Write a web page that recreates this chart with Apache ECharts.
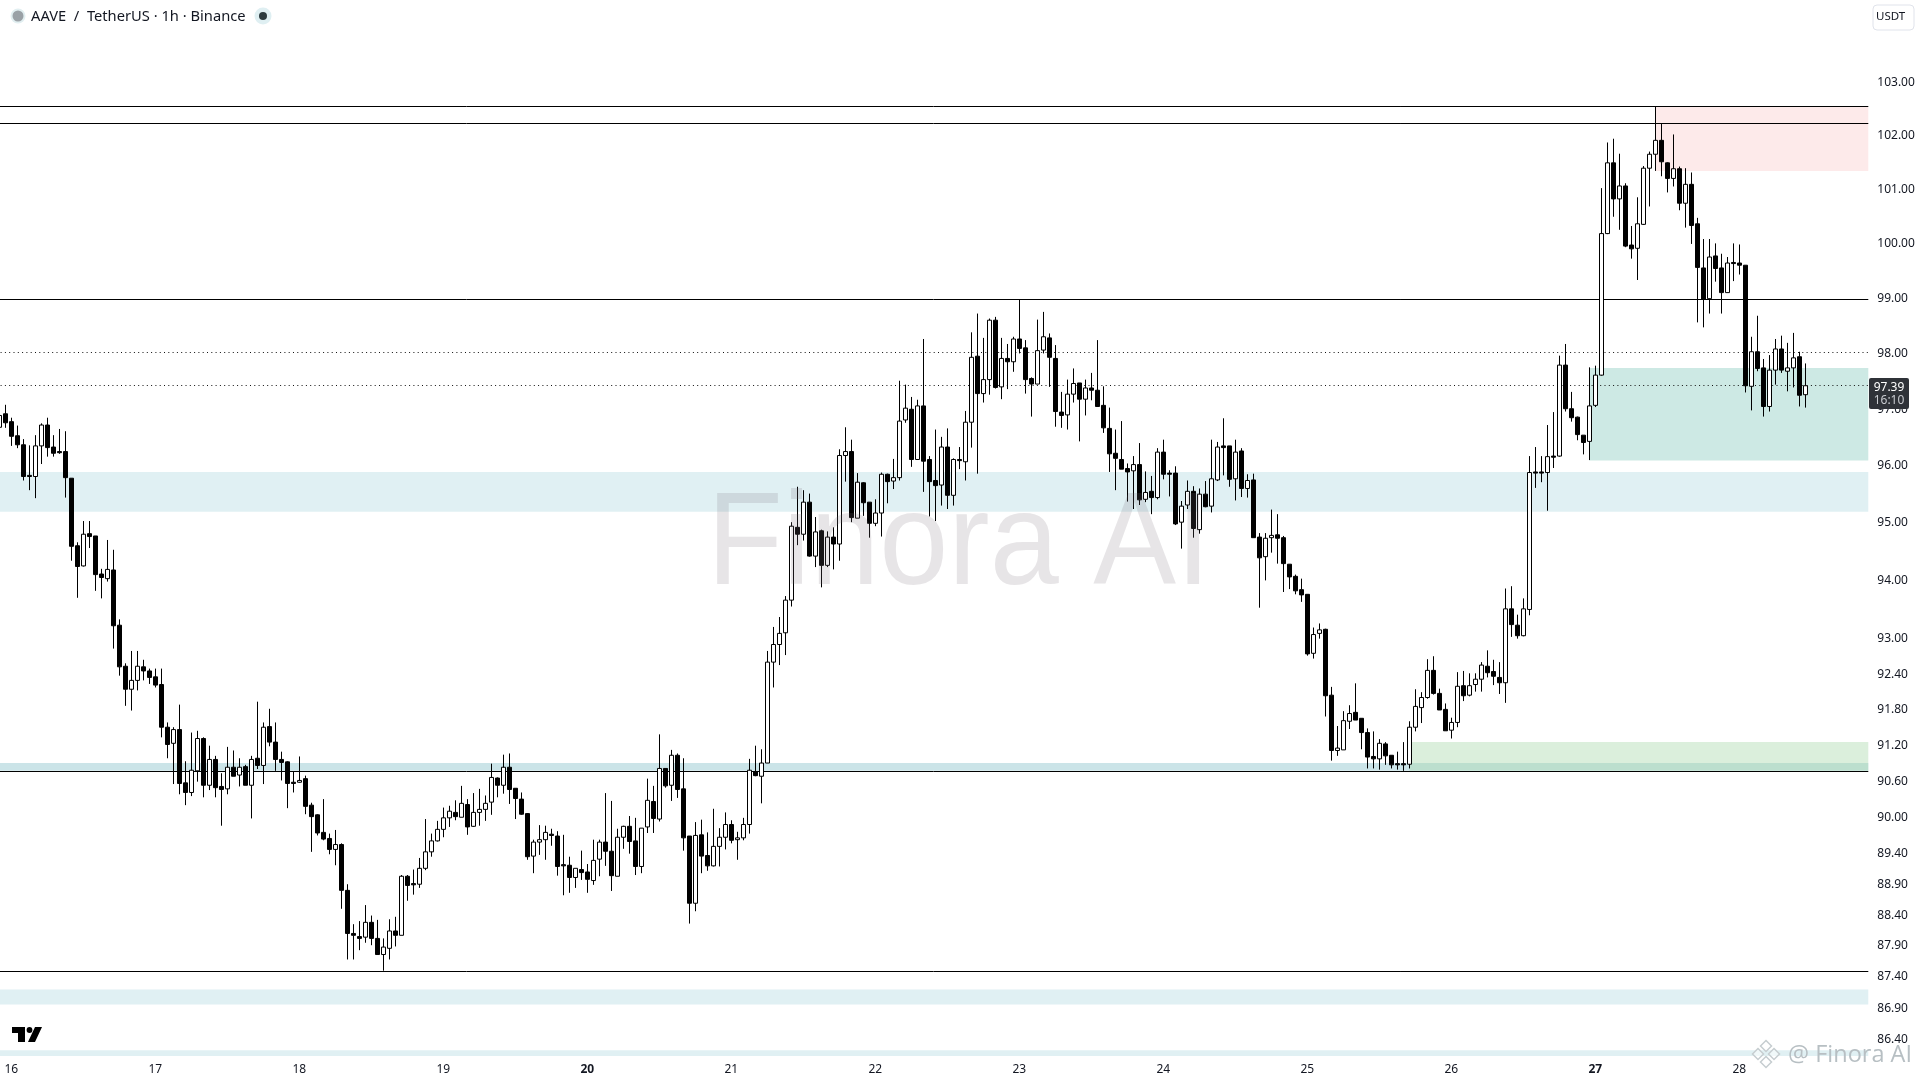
<!DOCTYPE html>
<html><head><meta charset="utf-8">
<script src="https://cdn.jsdelivr.net/npm/echarts@6/dist/echarts.min.js"></script>
<style>html,body{margin:0;padding:0;background:#fff}#c{width:1920px;height:1080px}</style>
</head><body><div id="c"></div>
<script>
const opens=[
96.65,96.89,96.75,96.50,96.34,95.80,95.78,96.32,96.69,96.30,
96.22,96.22,95.75,94.57,94.22,94.78,94.74,94.08,94.00,94.15,
93.20,92.50,92.11,92.26,92.49,92.42,92.32,92.19,91.47,91.20,
91.43,90.54,90.38,90.74,91.28,90.50,90.93,90.48,90.44,90.80,
90.67,90.81,90.50,90.95,90.83,91.48,91.22,90.93,90.89,90.55,
90.55,90.61,90.17,90.01,89.72,89.62,89.44,89.52,88.77,88.07,
88.02,88.01,88.25,87.99,87.73,87.83,88.11,88.04,89.00,88.88,
88.87,89.13,89.40,89.58,89.77,89.96,90.05,89.97,90.18,89.82,
90.05,90.10,90.22,90.62,90.50,90.80,90.45,90.27,90.03,89.33,
89.56,89.60,89.69,89.66,89.19,89.18,88.98,89.11,89.07,88.93,
89.28,89.56,89.41,89.00,89.64,89.82,89.58,89.16,89.81,90.23,
89.94,90.78,90.50,91.00,90.44,89.66,88.56,89.68,89.34,89.17,
89.49,89.64,89.85,89.60,89.63,89.85,90.73,90.65,90.87,92.57,
92.87,93.07,93.63,94.89,94.77,95.33,94.39,94.83,94.23,94.72,
94.60,96.15,96.22,95.05,95.67,95.33,94.96,95.14,95.82,95.70,
95.76,96.78,96.97,96.08,97.03,96.08,95.71,95.63,96.30,95.45,
96.08,96.04,96.74,97.92,97.25,97.50,98.57,97.37,97.88,97.82,
98.23,98.07,97.52,97.42,98.03,98.25,97.88,96.92,96.87,97.24,
97.44,97.15,97.35,97.31,97.04,96.63,96.19,96.08,95.92,95.88,
95.99,95.38,95.52,95.41,96.21,95.84,95.84,94.98,95.28,95.52,
94.85,95.47,95.26,95.72,96.32,96.32,95.74,96.23,95.57,95.72,
94.72,94.38,94.71,94.76,94.71,94.25,94.04,93.81,93.73,92.72,
93.06,93.13,92.01,91.08,91.09,91.57,91.72,91.62,91.38,90.98,
90.94,91.19,91.00,90.86,90.86,90.85,91.47,91.80,91.97,92.43,
92.04,91.77,91.42,91.55,92.17,92.01,92.19,92.28,92.50,92.41,
92.31,92.22,93.48,93.20,93.02,93.47,95.86,95.86,95.85,96.14,
96.14,97.76,96.98,96.83,96.51,96.40,97.04,97.58,100.15,101.46,
100.79,101.03,99.94,99.88,100.32,101.36,101.62,101.88,101.46,101.17,
101.35,100.71,101.06,100.33,99.52,98.96,99.74,99.52,99.07,99.62,
99.61,99.57,97.38,98.00,97.71,97.02,97.67,98.05,97.65,97.71,97.91,97.23];
const closes=[
96.86,96.73,96.49,96.34,95.78,95.78,96.32,96.69,96.29,96.19,
96.20,95.76,94.56,94.21,94.77,94.73,94.07,94.02,94.16,93.19,
92.49,92.11,92.26,92.50,92.42,92.31,92.18,91.47,91.18,91.43,
90.53,90.38,90.75,91.28,90.50,90.93,90.46,90.43,90.80,90.65,
90.80,90.50,90.93,90.83,91.47,91.22,90.93,90.88,90.53,90.53,
90.58,90.15,89.98,89.71,89.61,89.44,89.52,88.77,88.07,88.04,
87.99,88.25,87.99,87.73,87.85,88.11,88.04,89.00,88.85,88.86,
89.13,89.40,89.58,89.77,89.96,90.07,89.98,90.20,89.81,90.05,
90.10,90.20,90.63,90.50,90.80,90.43,90.28,90.02,89.32,89.56,
89.60,89.72,89.67,89.16,89.17,88.98,89.13,89.06,88.95,89.26,
89.56,89.41,89.01,89.64,89.82,89.57,89.16,89.79,90.25,89.95,
90.78,90.49,91.00,90.43,89.63,88.56,89.67,89.33,89.17,89.49,
89.64,89.85,89.59,89.63,89.85,90.75,90.66,90.87,92.57,92.87,
93.06,93.63,94.91,94.77,95.33,94.39,94.81,94.23,94.72,94.60,
96.15,96.22,95.06,95.68,95.32,94.96,95.14,95.82,95.69,95.76,
96.76,96.99,96.08,97.03,96.05,95.69,95.62,96.30,95.45,96.08,
96.06,96.74,97.90,97.25,97.50,98.57,97.36,97.88,97.82,98.23,
98.06,97.50,97.42,98.02,98.27,97.90,96.93,96.86,97.24,97.43,
97.15,97.35,97.31,97.02,96.64,96.18,96.10,95.91,95.86,95.99,
95.37,95.50,95.41,96.21,95.82,95.82,94.95,95.26,95.52,94.87,
95.47,95.25,95.74,96.30,96.29,95.73,96.21,95.57,95.71,94.71,
94.36,94.70,94.75,94.70,94.26,94.03,93.79,93.72,92.71,93.04,
93.12,92.00,91.08,91.12,91.58,91.70,91.59,91.38,90.97,90.94,
91.20,90.99,90.84,90.84,90.84,91.47,91.82,91.97,92.43,92.04,
91.76,91.41,91.55,92.16,92.00,92.17,92.28,92.52,92.39,92.33,
92.22,93.48,93.21,93.02,93.48,95.85,95.84,95.84,96.13,96.12,
97.76,96.98,96.82,96.52,96.38,97.03,97.58,100.15,101.46,100.79,
101.03,99.92,99.87,100.33,101.36,101.62,101.88,101.48,101.17,101.35,
100.71,101.06,100.30,99.53,98.95,99.72,99.51,99.07,99.61,99.60,
99.57,97.39,98.00,97.70,97.02,97.67,98.05,97.67,97.71,97.89,97.22,97.39];
const highs=[
96.93,97.05,96.82,96.68,96.44,96.33,96.51,96.72,96.82,96.51,
96.62,96.58,95.75,94.63,95.00,95.00,94.74,94.17,94.67,94.50,
93.30,92.55,92.76,92.76,92.61,92.46,92.46,92.46,91.55,91.47,
91.85,90.90,91.38,91.41,91.30,91.16,90.99,90.70,91.14,91.08,
90.95,90.84,90.99,91.90,91.55,91.78,91.55,91.06,90.90,90.73,
90.98,90.66,90.21,90.02,90.27,89.70,89.76,89.54,88.87,88.22,
88.27,88.53,88.36,88.29,87.99,88.30,88.34,89.02,89.02,89.11,
89.30,89.94,89.70,89.91,90.13,90.16,90.25,90.49,90.27,90.37,
90.44,90.33,90.86,90.63,91.01,91.03,90.45,90.38,90.04,89.60,
89.84,89.83,89.78,89.74,89.68,89.32,89.13,89.42,89.20,89.60,
89.60,90.37,90.24,89.78,89.83,89.99,89.96,89.79,90.61,90.49,
91.35,90.78,91.09,91.03,90.95,89.66,89.89,89.93,89.72,90.11,
89.79,90.05,89.92,89.73,89.96,90.94,91.16,91.10,92.76,93.17,
93.34,93.70,94.98,95.60,95.54,95.48,95.07,94.85,94.82,94.89,
96.26,96.65,96.43,95.84,95.68,95.33,95.38,95.85,95.83,96.09,
97.48,97.41,97.19,97.14,98.23,96.14,96.61,96.48,96.63,96.10,
96.30,96.94,98.35,98.69,98.25,98.60,98.63,98.25,98.14,98.27,
98.94,98.21,97.54,98.58,98.72,98.33,98.12,97.28,97.50,97.70,
97.44,97.50,97.62,98.21,97.38,97.00,96.61,96.76,96.01,96.14,
96.37,95.87,95.79,96.28,96.43,95.89,95.96,95.35,95.71,95.61,
95.57,95.70,96.43,96.39,96.81,96.32,96.43,96.28,95.82,95.83,
94.79,94.79,95.20,95.12,94.74,94.25,94.07,94.00,93.73,93.16,
93.23,93.14,92.15,91.49,91.74,91.84,92.21,91.62,91.45,91.40,
91.27,91.22,91.00,91.06,91.22,91.57,92.11,92.06,92.62,92.67,
92.12,91.87,91.63,92.40,92.42,92.38,92.38,92.57,92.77,92.61,
92.57,93.83,93.87,93.38,93.66,96.14,96.30,96.14,96.69,96.92,
97.93,98.14,97.28,96.84,96.51,97.72,97.75,100.99,101.84,101.91,
101.63,101.08,100.29,100.82,101.40,101.67,102.51,102.19,101.47,101.99,
101.39,101.36,101.28,100.44,100.05,100.05,99.97,99.78,99.72,99.97,
99.95,99.57,98.27,98.65,97.87,97.94,98.23,98.29,98.16,98.34,98.00,97.79];
const lows=[
96.61,96.64,96.32,96.28,95.71,95.54,95.40,96.00,96.13,96.13,
96.18,95.41,94.31,93.67,94.21,94.53,93.79,93.66,93.95,92.80,
92.34,91.83,91.75,92.09,92.26,92.20,92.14,91.30,90.95,90.52,
90.35,90.17,90.32,90.56,90.30,90.42,90.30,89.83,90.35,90.65,
90.48,90.50,89.95,90.77,90.52,91.15,90.74,90.58,90.12,90.38,
90.54,90.02,89.40,89.67,89.59,89.36,89.18,88.47,87.65,87.65,
87.80,87.92,87.88,87.73,87.47,87.65,87.86,88.04,88.60,88.70,
88.81,89.10,89.32,89.57,89.64,89.81,89.92,89.97,89.68,89.81,
89.83,89.91,90.01,90.30,90.36,90.19,89.94,90.01,89.27,89.05,
89.35,89.27,89.50,89.01,88.69,88.73,88.81,88.94,88.73,88.86,
89.00,89.17,88.76,89.00,89.45,89.37,89.02,89.05,89.71,89.71,
89.90,90.46,90.24,90.29,89.42,88.23,88.43,89.05,89.09,89.16,
89.16,89.44,89.54,89.27,89.59,89.70,90.65,90.20,90.87,92.14,
92.52,92.69,93.52,94.58,94.66,94.38,94.20,93.85,94.20,94.16,
94.31,95.69,94.98,95.05,95.09,94.71,94.91,94.73,95.31,95.56,
95.71,96.73,95.95,96.08,95.51,95.08,95.00,95.27,95.21,95.27,
95.91,95.71,96.29,95.83,97.09,97.23,97.34,97.15,97.33,97.64,
97.97,97.25,96.84,97.42,97.97,97.37,96.66,96.64,96.61,97.09,
96.40,96.86,97.13,97.02,96.55,95.86,95.54,95.91,95.34,95.21,
95.28,95.33,95.12,95.38,95.73,95.43,94.93,94.52,95.21,94.71,
94.78,95.24,95.15,95.70,95.80,95.60,95.36,95.42,95.41,94.71,
93.50,93.97,94.45,94.26,93.77,93.82,93.73,93.60,92.68,92.63,
92.97,91.65,90.91,90.99,91.09,91.44,91.59,91.10,90.78,90.78,
90.76,90.84,90.78,90.76,90.74,90.78,91.40,91.54,91.95,92.02,
91.76,91.41,91.28,91.47,91.91,91.99,92.07,92.07,92.31,92.18,
92.03,91.88,93.00,92.97,93.01,93.37,95.58,95.68,95.18,95.93,
96.13,96.93,96.75,96.42,96.17,96.07,97.01,97.57,100.14,100.46,
100.22,99.90,99.69,99.30,100.31,100.65,101.31,101.21,100.91,101.02,
100.58,100.26,99.96,98.53,98.44,98.69,99.27,98.69,99.07,99.28,
99.40,97.27,96.95,97.65,96.84,96.93,97.41,97.62,97.29,97.36,97.02,97.00];

const priceTicks=[103,102,101,100,99,98,97,96,95,94,93,92.4,91.8,91.2,90.6,90,89.4,88.9,88.4,87.9,87.4,86.9,86.4];
const dayLabels=['16','17','18','19','20','21','22','23','24','25','26','27','28'];
const boldDays=['20','27'];
const firstDayBar=2, barsPerDay=24, futureBars=10;
const solidLevels=[102.52,102.2,98.95,90.74,87.46];
const dottedLevels=[98.0,97.39];
const fullBands=[[95.16,95.86],[86.93,87.17],[86.11,86.20]];
const thinBand=[90.74,90.87];
const supplyZone={startBar:276,low:101.31,high:102.52};
const demandZone={startBar:265,low:96.06,high:97.71};
const baseZone={startBar:235,low:90.74,high:91.22};
const axisMin=86.11, axisMax=104.54;

const total=opens.length+futureBars;
const categories=Array.from({length:total},(_,i)=>String(i));
const candles=opens.map((o,i)=>[o,closes[i],lows[i],highs[i]]);
const band=(lo,hi,color,start)=>{const a={yAxis:hi,itemStyle:{color}};if(start!==undefined)a.xAxis=start;return [a,{yAxis:lo}];};

const FONT='"Noto Sans",sans-serif';
const chart=echarts.init(document.getElementById('c'),null,{renderer:'canvas'});
const logoDiamonds=[[1766,1046],[1758,1054],[1774,1054],[1766,1062]];
const txt=(x,y,text,font,fill,align)=>({type:'text',z:61,x,y,silent:true,style:{text,font,fill,align:align||'left',verticalAlign:'middle'}});
chart.setOption({
  animation:false,
  backgroundColor:'#ffffff',
  grid:{left:-3.7,width:1872,top:0,bottom:24,containLabel:false,outerBoundsMode:'none'},
  xAxis:{type:'category',data:categories,boundaryGap:true,
    axisLine:{show:false},axisTick:{show:false},splitLine:{show:false},
    axisLabel:{margin:8,color:'#131722',fontFamily:FONT,fontSize:12,
      interval:(i)=>i>=firstDayBar&&(i-firstDayBar)%barsPerDay===0,
      formatter:(v,i)=>{const d=dayLabels[(i-firstDayBar)/barsPerDay];if(!d)return '';return boldDays.includes(d)?'{b|'+d+'}':d;},
      rich:{b:{fontWeight:'bold',fontFamily:FONT,fontSize:12,color:'#131722'}}}},
  yAxis:{type:'log',logBase:10,position:'right',min:axisMin,max:axisMax,
    axisLine:{show:false},axisTick:{show:false},splitLine:{show:false},minorTick:{show:false},
    axisLabel:{margin:9,color:'#131722',fontFamily:FONT,fontSize:12,verticalAlign:'top',lineHeight:4,
      customValues:priceTicks,formatter:(v)=>Number(v).toFixed(2)}},
  series:[{type:'candlestick',data:candles,barWidth:4,silent:true,z:3,
    itemStyle:{color:'#ffffff',color0:'#000000',borderColor:'#000000',borderColor0:'#000000',borderColorDoji:'#000000',borderWidth:1},
    markArea:{silent:true,z:1,data:[
      ...fullBands.map(b=>band(b[0],b[1],'#e0f0f3')),
      band(thinBand[0],thinBand[1],'#cbe4e8'),
      band(supplyZone.low,supplyZone.high,'#fdeaea',supplyZone.startBar),
      band(demandZone.low,demandZone.high,'#cde9e4',demandZone.startBar),
      band(baseZone.low,baseZone.high,'rgba(165,214,167,0.4)',baseZone.startBar)
    ]},
    markLine:{silent:true,z:2,symbol:'none',label:{show:false},animation:false,precision:2,data:[
      ...solidLevels.map(v=>({yAxis:v,lineStyle:{color:'#000000',width:1,type:'solid'}})),
      ...dottedLevels.map(v=>({yAxis:v,lineStyle:{color:'#111111',width:1,type:[1,3.3]}}))
    ]}
  }],
  graphic:[
    {type:'text',z:100,silent:true,x:707,y:548,scaleX:0.94,style:{text:'Finora AI',font:'132px "Liberation Sans"',fill:'rgba(120,110,120,0.18)',align:'left',verticalAlign:'middle'}},
    {type:'circle',z:50,shape:{cx:18,cy:16,r:7.5},style:{fill:'#e2eff1'}},
    {type:'circle',z:51,shape:{cx:18,cy:16,r:5.5},style:{fill:'#9aa1a6'}},
    txt(31,17,'AAVE  /  TetherUS · 1h · Binance','14.7px '+FONT,'#131722'),
    {type:'circle',z:50,shape:{cx:263,cy:16,r:8.5},style:{fill:'#dfeff2'}},
    {type:'circle',z:51,shape:{cx:263,cy:16,r:4},style:{fill:'#2c3a3e'}},
    {type:'rect',z:50,shape:{x:1873,y:5,width:41,height:25,r:4},style:{fill:'#ffffff',stroke:'#e0e3eb',lineWidth:1}},
    txt(1876,17,'USDT','11.5px '+FONT,'#131722'),
    {type:'rect',z:60,shape:{x:1869,y:378,width:40,height:31,r:2},style:{fill:'#2f3238'}},
    txt(1889,388,'97.39','12px '+FONT,'#ffffff','center'),
    txt(1889,401,'16:10','12px '+FONT,'#c8cacf','center'),
    {type:'polygon',z:50,shape:{points:[[12,1027],[25,1027],[25,1042],[18,1042],[18,1033],[12,1033]]},style:{fill:'#000'}},
    {type:'circle',z:50,shape:{cx:29.5,cy:1030,r:2.9},style:{fill:'#000'}},
    {type:'polygon',z:50,shape:{points:[[35,1027],[42,1027],[35,1042],[28,1042]]},style:{fill:'#000'}},
    ...logoDiamonds.map(p=>({type:'polygon',z:70,shape:{points:[[p[0],p[1]-5.5],[p[0]+5.5,p[1]],[p[0],p[1]+5.5],[p[0]-5.5,p[1]]]},style:{fill:'rgba(255,255,255,0.5)',stroke:'#c6cdd0',lineWidth:1.5}})),
    txt(1788,1055,'@ Finora AI','23.5px "Open Sans"','#b7bfc3')
  ]
});
</script></body></html>
